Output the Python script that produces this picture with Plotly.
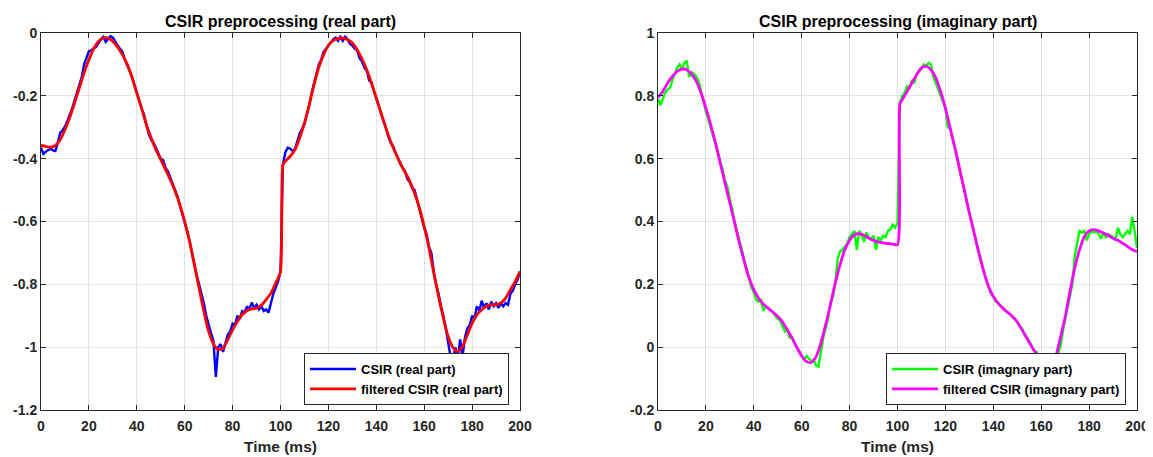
import plotly.graph_objects as go

# ---------------- data ----------------
t_raw = list(range(0, 201))
t_filt = list(range(0, 101, 2)) + [101] + list(range(102, 201, 2))

real_raw = [
    -0.365, -0.385, -0.378, -0.372, -0.368, -0.374, -0.376, -0.35, -0.318, -0.31,
    -0.298, -0.28, -0.262, -0.24, -0.215, -0.19, -0.165, -0.14, -0.1, -0.075,
    -0.058, -0.055, -0.048, -0.045, -0.03, -0.02, -0.012, -0.028, -0.02, -0.01,
    -0.015, -0.03, -0.04, -0.05, -0.06, -0.085, -0.1, -0.12, -0.14, -0.165,
    -0.19, -0.22, -0.24, -0.26, -0.29, -0.322, -0.34, -0.35, -0.365, -0.38,
    -0.4, -0.405, -0.43, -0.44, -0.46, -0.48, -0.5, -0.52, -0.55, -0.575,
    -0.6, -0.63, -0.66, -0.7, -0.73, -0.77, -0.8, -0.83, -0.86, -0.9,
    -0.93, -0.955, -0.98, -1.095, -1.0, -0.99, -1.015, -0.99, -0.96, -0.95,
    -0.925, -0.93, -0.9, -0.91, -0.885, -0.89, -0.87, -0.88, -0.858, -0.875,
    -0.865, -0.88, -0.87, -0.885, -0.88, -0.89, -0.86, -0.83, -0.81, -0.79,
    -0.76,
    -0.42, -0.38, -0.365, -0.368, -0.375, -0.37, -0.345, -0.32, -0.305,
    -0.29, -0.26, -0.23, -0.19, -0.16, -0.13, -0.1, -0.085, -0.06, -0.05,
    -0.04, -0.03, -0.02, -0.015, -0.025, -0.012, -0.025, -0.012, -0.02, -0.035,
    -0.04, -0.05, -0.055, -0.08, -0.09, -0.11, -0.12, -0.15, -0.16, -0.185,
    -0.21, -0.235, -0.26, -0.28, -0.3, -0.33, -0.35, -0.36, -0.38, -0.4,
    -0.415, -0.43, -0.44, -0.465, -0.475, -0.495, -0.5, -0.53, -0.56, -0.585,
    -0.62, -0.64, -0.68, -0.7, -0.76, -0.8, -0.83, -0.87, -0.9, -0.94,
    -0.98, -1.03, -1.04, -1.0, -1.04, -0.975, -1.03, -0.97, -0.94, -0.93,
    -0.9, -0.91, -0.87, -0.885, -0.852, -0.875, -0.86, -0.88, -0.855, -0.87,
    -0.86, -0.875, -0.86, -0.87, -0.86, -0.865, -0.83, -0.82, -0.8, -0.785,
    -0.76,
]

real_filt = [
    -0.358, -0.361, -0.363, -0.358, -0.34, -0.308, -0.269, -0.223, -0.175, -0.127,
    -0.085, -0.05, -0.027, -0.016, -0.016, -0.027, -0.045, -0.069, -0.10, -0.141,
    -0.191, -0.239, -0.292, -0.334, -0.372, -0.403, -0.435, -0.467, -0.504, -0.547,
    -0.60, -0.663, -0.737, -0.812, -0.886, -0.95, -0.99, -1.008, -1.003, -0.976,
    -0.945, -0.918, -0.897, -0.884, -0.878, -0.876, -0.867, -0.849, -0.828, -0.796,
    -0.759,
    -0.419,
    -0.408, -0.393, -0.372, -0.334, -0.287, -0.228, -0.165, -0.109, -0.069, -0.039,
    -0.024, -0.018, -0.016, -0.021, -0.032, -0.053, -0.082, -0.117, -0.159, -0.207,
    -0.255, -0.303, -0.345, -0.382, -0.414, -0.443, -0.472, -0.51, -0.557, -0.616,
    -0.685, -0.764, -0.839, -0.908, -0.966, -1.001, -1.014, -0.998, -0.961, -0.924,
    -0.897, -0.881, -0.87, -0.865, -0.865, -0.86, -0.844, -0.817, -0.791, -0.759,
]

imag_raw = [
    0.79, 0.77, 0.79, 0.81, 0.82, 0.825, 0.85, 0.87, 0.89, 0.9,
    0.885, 0.905, 0.912, 0.86, 0.875, 0.87, 0.86, 0.845, 0.81, 0.78,
    0.75, 0.725, 0.7, 0.67, 0.645, 0.62, 0.59, 0.565, 0.53, 0.51,
    0.47, 0.44, 0.4, 0.37, 0.335, 0.305, 0.275, 0.245, 0.22, 0.19,
    0.175, 0.15, 0.145, 0.15, 0.115, 0.13, 0.125, 0.118, 0.11, 0.1,
    0.09, 0.085, 0.07, 0.05, 0.055, 0.03, 0.03, 0.01, 0.0, -0.015,
    -0.025, -0.04, -0.028, -0.035, -0.045, -0.04, -0.058, -0.062, -0.01, 0.03,
    0.06, 0.09, 0.14, 0.16, 0.2, 0.28, 0.305, 0.31, 0.32, 0.33,
    0.35, 0.36, 0.37, 0.31, 0.37, 0.36, 0.335, 0.365, 0.35, 0.345,
    0.355, 0.31, 0.35, 0.34, 0.355, 0.35, 0.37, 0.375, 0.39, 0.38,
    0.395,
    0.78, 0.8, 0.81, 0.83, 0.825, 0.85, 0.84, 0.87, 0.88,
    0.885, 0.9, 0.895, 0.905, 0.9, 0.86, 0.84, 0.82, 0.8, 0.785,
    0.76, 0.7, 0.695, 0.66, 0.63, 0.6, 0.56, 0.53, 0.5, 0.46,
    0.43, 0.4, 0.365, 0.33, 0.3, 0.27, 0.24, 0.215, 0.19, 0.17,
    0.16, 0.145, 0.14, 0.13, 0.125, 0.115, 0.11, 0.105, 0.095, 0.09,
    0.08, 0.065, 0.06, 0.04, 0.03, 0.02, 0.005, -0.01, -0.015, -0.03,
    -0.035, -0.03, -0.04, -0.03, -0.045, -0.035, -0.04, -0.02, 0.0, 0.05,
    0.09, 0.13, 0.17, 0.2, 0.29, 0.33, 0.37, 0.365, 0.37, 0.34,
    0.36, 0.37, 0.365, 0.37, 0.36, 0.345, 0.365, 0.35, 0.36, 0.355,
    0.35, 0.34, 0.38, 0.36, 0.35, 0.36, 0.37, 0.36, 0.415, 0.37,
    0.315,
]

imag_filt = [
    0.795, 0.814, 0.841, 0.862, 0.878, 0.885, 0.883, 0.869, 0.846, 0.809,
    0.761, 0.708, 0.65, 0.586, 0.522, 0.459, 0.395, 0.331, 0.273, 0.22,
    0.183, 0.156, 0.137, 0.124, 0.111, 0.098, 0.08, 0.055, 0.029, -0.001,
    -0.028, -0.046, -0.049, -0.03, 0.013, 0.071, 0.135, 0.204, 0.262, 0.31,
    0.34, 0.358, 0.361, 0.356, 0.347, 0.34, 0.335, 0.332, 0.33, 0.328,
    0.326,
    0.774,
    0.788, 0.814, 0.841, 0.867, 0.889, 0.894, 0.883, 0.857, 0.814, 0.761,
    0.697, 0.634, 0.565, 0.496, 0.427, 0.363, 0.299, 0.241, 0.193, 0.161,
    0.14, 0.124, 0.111, 0.098, 0.08, 0.055, 0.029, 0.002, -0.022, -0.04,
    -0.045, -0.048, -0.03, 0.03, 0.095, 0.177, 0.252, 0.31, 0.352, 0.37,
    0.374, 0.37, 0.363, 0.356, 0.347, 0.34, 0.331, 0.321, 0.31, 0.305,
]

x_ticks = [0, 20, 40, 60, 80, 100, 120, 140, 160, 180, 200]
y_ticks_real = [-1.2, -1.0, -0.8, -0.6, -0.4, -0.2, 0]
y_ticks_real_txt = ["-1.2", "-1", "-0.8", "-0.6", "-0.4", "-0.2", "0"]
y_ticks_imag = [-0.2, 0, 0.2, 0.4, 0.6, 0.8, 1.0]
y_ticks_imag_txt = ["-0.2", "0", "0.2", "0.4", "0.6", "0.8", "1"]

titles = ["CSIR preprocessing (real part)", "CSIR preprocessing (imaginary part)"]
xlabel = "Time (ms)"

# ---------------- figure ----------------
# The page body has an 8px margin, so the figure is drawn 8px smaller and
# all positions are measured from the figure's own top-left corner.
W, H = 1145, 449
FONT = "Liberation Sans, Arial, Helvetica, sans-serif"
AX = "#262626"

fig = go.Figure()
fig.add_trace(go.Scatter(x=t_raw, y=real_raw, mode="lines", name="CSIR (real part)",
                         line=dict(color="#0000ff", width=2.4), xaxis="x", yaxis="y", legend="legend"))
fig.add_trace(go.Scatter(x=t_filt, y=real_filt, mode="lines", name="filtered CSIR (real part)",
                         line=dict(color="#ff0000", width=2.8, shape="spline", smoothing=0.6),
                         xaxis="x", yaxis="y", legend="legend"))
fig.add_trace(go.Scatter(x=t_raw, y=imag_raw, mode="lines", name="CSIR (imagnary part)",
                         line=dict(color="#00ff00", width=2.4), xaxis="x2", yaxis="y2", legend="legend2"))
fig.add_trace(go.Scatter(x=t_filt, y=imag_filt, mode="lines", name="filtered CSIR (imagnary part)",
                         line=dict(color="#ff00ff", width=2.8, shape="spline", smoothing=0.6),
                         xaxis="x2", yaxis="y2", legend="legend2"))

L1, R1 = 33 / W, 512 / W
L2, R2 = 650 / W, 1129 / W
B, T = 1 - 402 / H, 1 - 25 / H

common_axis = dict(
    showline=True, mirror="ticks", linecolor=AX, linewidth=1,
    ticks="inside", ticklen=5, tickcolor=AX, tickwidth=1,
    showgrid=True, gridcolor="#e3e3e3", gridwidth=1, zeroline=False,
    automargin=False,
    tickfont=dict(family=FONT, size=14, color=AX, weight="bold"),
)

fig.update_layout(
    width=W, height=H,
    margin=dict(l=0, r=0, t=0, b=0, pad=0, autoexpand=False),
    paper_bgcolor="white", plot_bgcolor="white",
    showlegend=True,
    xaxis=dict(domain=[L1, R1], range=[0, 200], tickvals=x_ticks, anchor="y",
               ticklabelstandoff=3, **common_axis),
    yaxis=dict(domain=[B, T], range=[-1.2, 0], tickvals=y_ticks_real, ticktext=y_ticks_real_txt,
               anchor="x", **common_axis),
    xaxis2=dict(domain=[L2, R2], range=[0, 200], tickvals=x_ticks, anchor="y2",
                ticklabelstandoff=3, **common_axis),
    yaxis2=dict(domain=[B, T], range=[-0.2, 1], tickvals=y_ticks_imag, ticktext=y_ticks_imag_txt,
                anchor="x2", **common_axis),
    legend=dict(x=501 / W, y=1 - 371 / H, xanchor="right", yanchor="middle",
                bgcolor="white", bordercolor=AX, borderwidth=1, itemwidth=46,
                font=dict(family=FONT, size=13, color="black", weight="bold"),
                tracegroupgap=0),
    legend2=dict(x=1118 / W, y=1 - 371 / H, xanchor="right", yanchor="middle",
                 bgcolor="white", bordercolor=AX, borderwidth=1, itemwidth=46,
                 font=dict(family=FONT, size=13, color="black", weight="bold"),
                 tracegroupgap=0),
)

annos = []
for (l, r), ttl in zip([(L1, R1), (L2, R2)], titles):
    annos.append(dict(x=(l + r) / 2, y=1 - 13 / H, xref="paper", yref="paper", text=ttl,
                      showarrow=False, xanchor="center", yanchor="middle",
                      font=dict(family=FONT, size=16, color="black", weight="bold")))
    annos.append(dict(x=(l + r) / 2, y=1 - 438 / H, xref="paper", yref="paper", text=xlabel,
                      showarrow=False, xanchor="center", yanchor="middle",
                      font=dict(family=FONT, size=15.5, color=AX, weight="bold")))
fig.update_layout(annotations=annos)

fig.write_html("out.html")
